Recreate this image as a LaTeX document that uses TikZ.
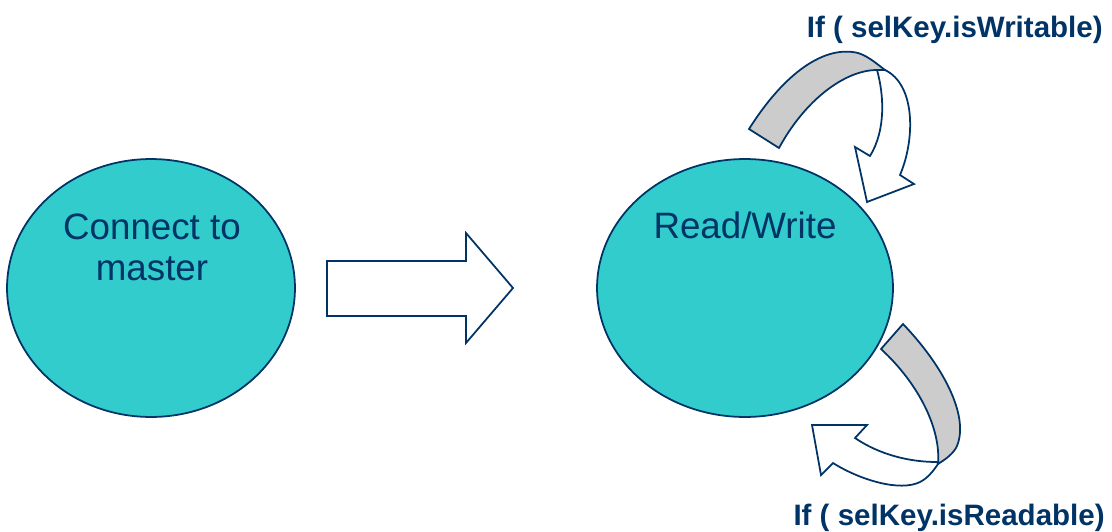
\documentclass[tikz,border=0pt]{standalone}
\usepackage{fontspec}
\setmainfont{Liberation Sans}
\usetikzlibrary{shapes.geometric}
\definecolor{navy}{HTML}{003366}
\definecolor{teal}{HTML}{33CCCC}
\definecolor{ribbon}{HTML}{CCCCCC}
\tikzset{
  state/.style={ellipse, draw=navy, line width=1pt, fill=teal, inner sep=0pt},
  statetext/.style={inner sep=0pt, text=navy, font=\fontsize{20.9}{23}\selectfont},
  condtext/.style={inner sep=0pt, text=navy, font=\fontsize{16.8}{19}\selectfont\bfseries},
  outline/.style={draw=navy, line width=1pt, line join=miter},
}
\begin{document}
\begin{tikzpicture}[x=0.02cm, y=-0.02cm]
\useasboundingbox (0,0) rectangle (1112,531);

% the two states
\node[state, minimum width=5.76cm, minimum height=5.16cm] (connect) at (151,288) {};
\node[state, minimum width=5.92cm, minimum height=5.16cm] (rw) at (745,288) {};
\node[statetext, anchor=base] (connectA) at (152,239) {Connect to};
\node[statetext, anchor=base] (connectB) at (152,280) {master};
\node[statetext, anchor=base] (rwtext) at (745,238) {Read/Write};

% block arrow between the states
\draw[outline, fill=white] (327,261) -- (466,261) -- (466,233) -- (513,288)
  -- (466,343) -- (466,316) -- (327,316) -- cycle;

% looping arrow above: ribbon back and arrow front
\draw[outline, fill=ribbon] (749,129) .. controls (785,72) and (825,45) .. (858,53)
  .. controls (868,56) and (877,64) .. (885,70)
  -- (877,70) .. controls (845,70) and (805,100) .. (779,148) -- cycle;
\draw[outline, fill=white] (877,70) .. controls (884,95) and (886,130) .. (870,156)
  -- (855,147) -- (867,202) -- (914,184) -- (900,175)
  .. controls (915,140) and (916,85) .. (885,70) -- cycle;

% looping arrow below: ribbon back and arrow front
\draw[outline, fill=ribbon] (903,324) .. controls (947,370) and (970,420) .. (956,448)
  .. controls (951,456) and (944,460) .. (938,464)
  .. controls (941,430) and (920,385) .. (881,349) -- cycle;
\draw[outline, fill=white] (937,462) .. controls (910,462) and (880,455) .. (855,438)
  -- (867,425) -- (812,425) -- (821,475) -- (833,463)
  .. controls (860,480) and (900,492) .. (920,482)
  .. controls (928,478) and (934,470) .. (938,464) -- cycle;

% conditions
\node[condtext, anchor=base east] (wcond) at (1103,37) {If ( selKey.isWritable)};
\node[condtext, anchor=base east] (rcond) at (1105,525) {If ( selKey.isReadable)};
\end{tikzpicture}
\end{document}
